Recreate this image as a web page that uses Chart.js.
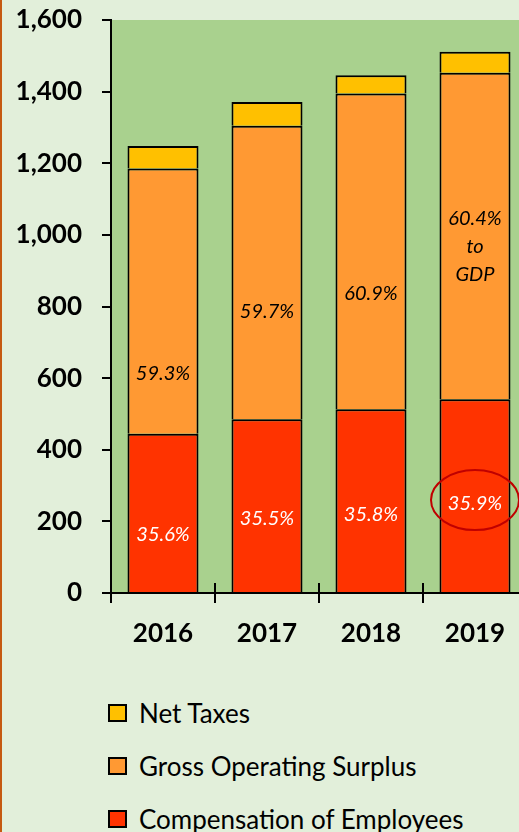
<!DOCTYPE html>
<html>
<head>
<meta charset="utf-8">
<script src="https://cdn.jsdelivr.net/npm/chart.js@4"></script>
<style>
  html, body { margin: 0; padding: 0; width: 519px; height: 832px; overflow: hidden; background: #E2EFDA; font-family: Lato, sans-serif; }
  #wrap { position: relative; width: 519px; height: 832px; overflow: hidden; }
  #chartBox { position: absolute; left: 0; top: 0; width: 540px; height: 660px; }
  #edge { position: absolute; left: 0; top: 0; width: 2px; height: 832px; background: #C55A11; }
  #legend { position: absolute; left: 108px; top: 686px; }
  .item { display: flex; align-items: center; height: 53px; font-size: 26px; color: #000; }
  .box { width: 15px; height: 14px; border: 2px solid #000; margin-right: 12px; }
</style>
</head>
<body>
<div id="wrap">
  <div id="chartBox"><canvas id="gdpChart"></canvas></div>
  <div id="edge"></div>
  <div id="legend"></div>
</div>
<script>
// --- Data ---
const years = ['2016', '2017', '2018', '2019'];
const compensation = [445, 485, 513, 541];
const grossSurplus = [740, 820, 882, 912];
const netTaxes = [63, 66, 51, 58];
const compShare = ['35.6%', '35.5%', '35.8%', '35.9%'];
const surplusShare = [['59.3%'], ['59.7%'], ['60.9%'], ['60.4%', 'to', 'GDP']];
const yTicks = [0, 200, 400, 600, 800, 1000, 1200, 1400, 1600];

// where the percentage labels sit, in axis units
const compLabelAt = [164, 209, 220, 251];
const surplusLabelAt = [614, 786, 836, 968];

const font = 'Lato';

const decorations = {
    id: 'decorations',
    beforeDraw(chart) {
        const { ctx, chartArea: a } = chart;
        ctx.save();
        ctx.fillStyle = '#A9D18E';
        ctx.fillRect(a.left, a.top, a.right - a.left, a.bottom - a.top);
        ctx.restore();
    },
    afterDatasetsDraw(chart) {
        const { ctx } = chart;
        const x = chart.scales.x, y = chart.scales.y;
        ctx.save();
        ctx.textAlign = 'center';
        ctx.textBaseline = 'middle';
        ctx.font = 'italic 20px ' + font;

        // white labels in the red segment
        ctx.fillStyle = '#fff';
        compShare.forEach((t, i) => {
            ctx.fillText(t, x.getPixelForValue(i), y.getPixelForValue(compLabelAt[i]));
        });

        // black labels in the orange segment
        ctx.fillStyle = '#000';
        surplusShare.forEach((lines, i) => {
            const cx = x.getPixelForValue(i);
            const cy = y.getPixelForValue(surplusLabelAt[i]);
            lines.forEach((t, k) => {
                ctx.fillText(t, cx, cy + (k - (lines.length - 1) / 2) * 28);
            });
        });

        // ring round the latest share
        const last = years.length - 1;
        ctx.strokeStyle = '#C00000';
        ctx.lineWidth = 2;
        ctx.beginPath();
        ctx.ellipse(x.getPixelForValue(last), y.getPixelForValue(compLabelAt[last]) - 3, 44, 30, 0, 0, Math.PI * 2);
        ctx.stroke();
        ctx.restore();
    },
    afterDraw(chart) {
        // category tick marks cross the axis line
        const { ctx, chartArea: a } = chart;
        const x = chart.scales.x;
        ctx.save();
        ctx.strokeStyle = '#000';
        ctx.lineWidth = 2;
        for (let i = 0; i < years.length; i++) {
            const px = x.getPixelForValue(i) - (x.getPixelForValue(1) - x.getPixelForValue(0)) / 2;
            ctx.beginPath();
            ctx.moveTo(px, a.bottom - 10);
            ctx.lineTo(px, a.bottom);
            ctx.stroke();
        }
        ctx.restore();
    }
};

const gdpChart = new Chart(document.getElementById('gdpChart'), {
    type: 'bar',
    data: {
        labels: years,
        datasets: [{
            label: 'Compensation of Employees',
            data: compensation,
            backgroundColor: '#FF3300'
        }, {
            label: 'Gross Operating Surplus',
            data: grossSurplus,
            backgroundColor: '#FF9933'
        }, {
            label: 'Net Taxes',
            data: netTaxes,
            backgroundColor: '#FFC000'
        }]
    },
    options: {
        responsive: true,
        maintainAspectRatio: false,
        animation: false,
        layout: { padding: { top: 20, right: 13, left: 0, bottom: 0 } },
        datasets: {
            bar: {
                borderColor: '#000',
                borderWidth: 2,
                barPercentage: 0.683,
                categoryPercentage: 1
            }
        },
        scales: {
            x: {
                stacked: true,
                grid: { offset: true, drawOnChartArea: false, tickLength: 10, color: '#000', lineWidth: 2 },
                border: { color: '#000', width: 2 },
                ticks: { color: '#000', padding: 15, font: { family: font, size: 26, weight: 'bold' } },
                afterFit: s => { s.height = 67; s.paddingLeft = 0; s.paddingRight = 0; }
            },
            y: {
                stacked: true,
                min: 0,
                max: 1600,
                afterBuildTicks: s => { s.ticks = yTicks.map(v => ({ value: v })); },
                grid: { drawOnChartArea: false, tickLength: 9, color: '#000', lineWidth: 2 },
                border: { color: '#000', width: 2 },
                ticks: { color: '#000', padding: 20, font: { family: font, size: 26, weight: 'bold' } },
                afterFit: s => { s.width = 111; s.paddingTop = 0; s.paddingBottom = 0; }
            }
        },
        plugins: {
            legend: { display: false },
            tooltip: { enabled: false }
        }
    },
    plugins: [decorations]
});

// legend, top of the stack first
const legendBox = document.getElementById('legend');
gdpChart.data.datasets.slice().reverse().forEach(ds => {
    const row = document.createElement('div');
    row.className = 'item';
    const sw = document.createElement('span');
    sw.className = 'box';
    sw.style.background = ds.backgroundColor;
    row.appendChild(sw);
    row.appendChild(document.createTextNode(ds.label));
    legendBox.appendChild(row);
});
</script>
</body>
</html>
